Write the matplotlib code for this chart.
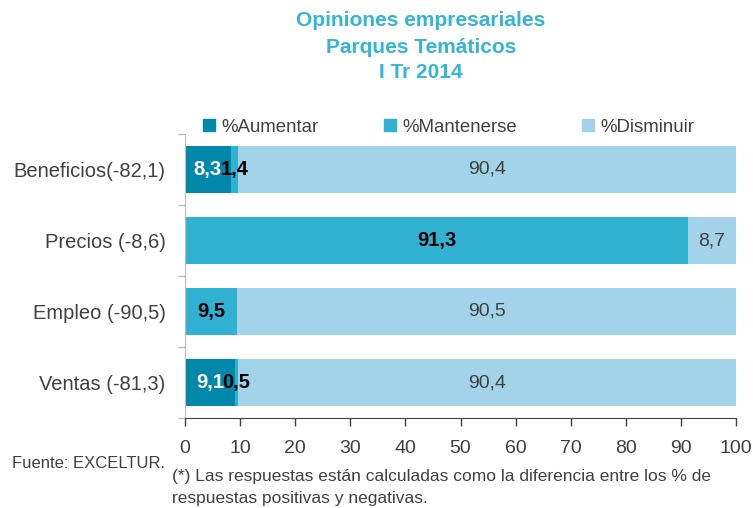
import matplotlib
matplotlib.use("Agg")
import matplotlib.pyplot as plt
from matplotlib.patches import Patch
import numpy as np

plt.rcParams['font.family'] = ['Liberation Sans', 'DejaVu Sans']

# datos (%)
categorias = ['Beneficios(-82,1)', 'Precios (-8,6)', 'Empleo (-90,5)', 'Ventas (-81,3)']
aumentar = [8.3, 0.0, 0.0, 9.1]
mantenerse = [1.4, 91.3, 9.5, 0.5]
disminuir = [90.4, 8.7, 90.5, 90.4]
series_nombres = ['%Aumentar', '%Mantenerse', '%Disminuir']
titulo = ['Opiniones empresariales', 'Parques Temáticos', 'I Tr 2014']

c_aum = '#0087a9'
c_man = '#31b2d3'
c_dis = '#a3d3e8'
c_tit = '#33b5d5'
gris = '#404040'

fig = plt.figure(figsize=(7.53, 5.08), dpi=100)
ax = fig.add_axes([185/753, 1-418/508, 551/753, 284/508])

y = np.arange(len(categorias))
h = 0.66
a = np.array(aumentar)
m = np.array(mantenerse)
d = np.array(disminuir)

ax.barh(y, a, height=h, color=c_aum)
ax.barh(y, m, left=a, height=h, color=c_man)
ax.barh(y, d, left=a + m, height=h, color=c_dis)

def fmt(v):
    return f'{v:.1f}'.replace('.', ',')

for i in range(len(y)):
    if a[i] > 0:
        ax.text(a[i]/2, y[i], fmt(a[i]), ha='center', va='center',
                color='white', fontweight='bold', fontsize=14.5)
    if m[i] > 0:
        ax.text(a[i] + m[i]/2, y[i], fmt(m[i]), ha='center', va='center',
                color='black', fontweight='bold', fontsize=14.5)
    if d[i] > 0:
        ax.text(a[i] + m[i] + d[i]/2, y[i], fmt(d[i]), ha='center', va='center',
                color=gris, fontsize=14)

ax.set_xlim(0, 100)
ax.set_ylim(3.5, -0.5)
ax.set_xticks(np.arange(0, 101, 10))
ax.tick_params(axis='x', direction='out', length=6, width=1, color=gris,
               labelcolor=gris, labelsize=14, pad=10)
ax.set_yticks(y)
ax.set_yticklabels(categorias)
ax.tick_params(axis='y', which='major', length=0, labelcolor=gris, labelsize=14.5, pad=14)
ax.set_yticks([-0.5, 0.5, 1.5, 2.5, 3.5], minor=True)
ax.tick_params(axis='y', which='minor', length=5, color='#bbbbbb', width=1)

for s in ['top', 'right']:
    ax.spines[s].set_visible(False)
ax.spines['left'].set_color('#bbbbbb')
ax.spines['bottom'].set_color(gris)

handles = [Patch(color=c) for c in (c_aum, c_man, c_dis)]
fig.legend(handles, series_nombres, ncol=3, loc='center left',
           bbox_to_anchor=(186/753, 1-127/508), frameon=False,
           fontsize=13.4, labelcolor=gris, handlelength=0.65, handleheight=0.65,
           handletextpad=0.35, columnspacing=3.5)

for k, yy in enumerate([20, 47, 73]):
    fig.text(421/753, 1-yy/508, titulo[k], ha='center', va='center',
             color=c_tit, fontweight='bold', fontsize=15)

fig.text(12/753, 1-463/508, 'Fuente: EXCELTUR.', ha='left', va='center',
         color=gris, fontsize=12)
fig.text(172/753, 1-477/508, '(*) Las respuestas están calculadas como la diferencia entre los % de',
         ha='left', va='center', color=gris, fontsize=12.5)
fig.text(172/753, 1-499/508, 'respuestas positivas y negativas.',
         ha='left', va='center', color=gris, fontsize=12.5)

fig.savefig('out.png', dpi=100)
